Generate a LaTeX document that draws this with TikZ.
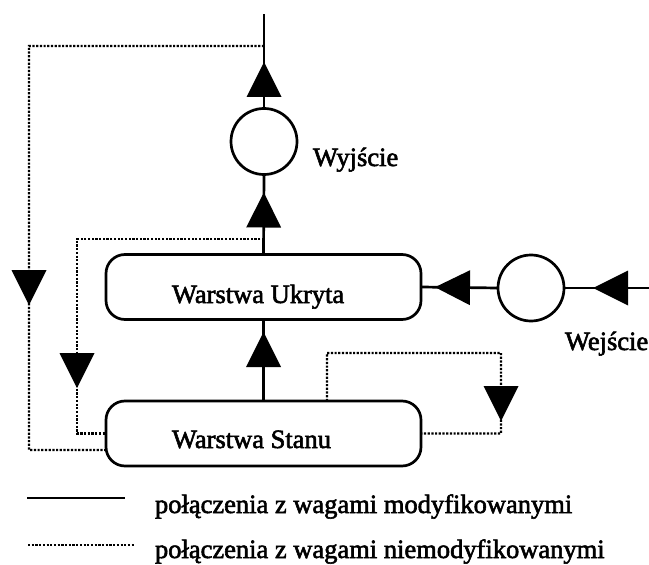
\documentclass[tikz,border=0pt]{standalone}
\usepackage{fontspec}
\setmainfont{Liberation Serif}[FakeBold=2.2]
\usetikzlibrary{arrows.meta,decorations.markings}

\begin{document}
\begin{tikzpicture}[
  x=1bp, y=-1bp,
  every node/.style={inner sep=0pt, outer sep=0pt},
  txt/.style={font=\fontsize{26.5bp}{30bp}\selectfont, anchor=base west},
  solidline/.style={line width=2.7bp},
  dotline/.style={line width=2.3bp, dash pattern=on 2.2bp off 1.5bp},
  neuron/.style={circle, draw, line width=2.7bp, minimum size=66bp},
  layerbox/.style={draw, line width=2.7bp, rounded corners=19bp,
                   minimum width=315bp, minimum height=65bp},
  tipat/.style={postaction={decorate},
    decoration={markings, mark=at position #1 with
      {\arrow{Triangle[width=35bp,length=35bp,line width=0pt]}}}}
]
\useasboundingbox (0,0) rectangle (649,565);

% neurons and layers
\node[neuron] (out) at (264,141.5) {};
\node[neuron] (in)  at (531,288) {};
\node[layerbox] (hid)   at (263.5,287) {};
\node[layerbox] (state) at (263.5,433.5) {};

% free ends and taps
\coordinate (top)  at (264,14);
\coordinate (src)  at (649,288);
\coordinate (tapA) at (264,46);
\coordinate (tapB) at (264,239);

% labels
\node[txt] (lhid)   at (172,303) {Warstwa Ukryta};
\node[txt] (lstate) at (172,448) {Warstwa Stanu};
\node[txt] (lout)   at (313,166) {Wyjście};
\node[txt] (lin)    at (565,350) {Wejście};

% modifiable-weight connections
\draw[solidline, tipat=46.5bp] (out.north) -- (top);
\draw[solidline, tipat=62bp] (hid.north) -- (out.south);
\draw[solidline, tipat=69bp] (state.north) -- (hid.south);
\draw[solidline, tipat=56bp] (src) -- (in.east);
\draw[solidline, tipat=63bp] (in.west) -- (hid.east);

% fixed-weight (copy) connections
\draw[dotline, tipat=494bp] (tapA) -- (29,46) -- (29,450) -- ([yshift=-16.5bp]state.west);
\draw[dotline, tipat=336bp] (tapB) -- (77,239) -- (77,433.5) -- (state.west);
\draw[dotline, tipat=290bp] ([xshift=63.5bp]state.north) -- (327,353) -- (501,353)
   -- (501,433.5) -- (state.east);

% legend
\coordinate (ls1) at (27,498);
\coordinate (le1) at (125,498);
\coordinate (ls2) at (28,545);
\coordinate (le2) at (135,545);
\draw[solidline] (ls1) -- (le1);
\draw[dotline] (ls2) -- (le2);
\node[txt] (leg1) at (155,513) {połączenia z wagami modyfikowanymi};
\node[txt] (leg2) at (155,558) {połączenia z wagami niemodyfikowanymi};
\end{tikzpicture}
\end{document}
